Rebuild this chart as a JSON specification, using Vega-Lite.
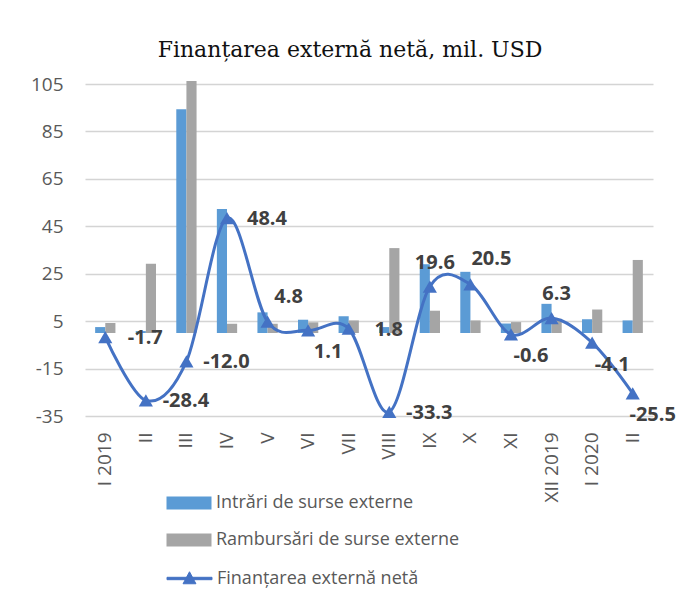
{
  "$schema": "https://vega.github.io/schema/vega-lite/v6.json",
  "autosize": {"type": "none"},
  "width": 568,
  "height": 332,
  "padding": {"left": 85, "top": 84, "right": 25, "bottom": 186},
  "background": "white",
  "title": {
    "text": "Finanțarea externă netă, mil. USD",
    "font": "DejaVu Serif",
    "fontSize": 22,
    "fontWeight": "normal",
    "color": "#111111",
    "anchor": "middle",
    "dx": -19,
    "offset": 13
  },
  "data": {
    "values": [
      {"m": "I 2019", "intrari": 2.5, "ramb": 4.2, "net": -1.7},
      {"m": "II", "intrari": 0.8, "ramb": 29.2, "net": -28.4},
      {"m": "III", "intrari": 94.3, "ramb": 106.3, "net": -12.0},
      {"m": "IV", "intrari": 52.3, "ramb": 3.9, "net": 48.4},
      {"m": "V", "intrari": 8.7, "ramb": 3.9, "net": 4.8},
      {"m": "VI", "intrari": 5.6, "ramb": 4.5, "net": 1.1},
      {"m": "VII", "intrari": 7.1, "ramb": 5.3, "net": 1.8},
      {"m": "VIII", "intrari": 2.5, "ramb": 35.8, "net": -33.3},
      {"m": "IX", "intrari": 29.0, "ramb": 9.4, "net": 19.6},
      {"m": "X", "intrari": 25.8, "ramb": 5.3, "net": 20.5},
      {"m": "XI", "intrari": 4.0, "ramb": 4.6, "net": -0.6},
      {"m": "XII 2019", "intrari": 12.3, "ramb": 6.0, "net": 6.3},
      {"m": "I 2020", "intrari": 5.8, "ramb": 9.9, "net": -4.1},
      {"m": "II 2020", "intrari": 5.3, "ramb": 30.8, "net": -25.5}
    ]
  },
  "encoding": {
    "x": {
      "field": "m",
      "type": "nominal",
      "sort": null,
      "scale": {"paddingInner": 0.5, "paddingOuter": 0.25},
      "axis": {
        "title": null,
        "labelAngle": -90,
        "labelPadding": 16,
        "domain": false,
        "ticks": false,
        "labelExpr": "datum.value == 'II 2020' ? 'II' : datum.value"
      }
    }
  },
  "layer": [
    {
      "transform": [{"fold": ["intrari", "ramb"], "as": ["key", "val"]}],
      "mark": {"type": "bar"},
      "encoding": {
        "xOffset": {"field": "key", "sort": ["intrari", "ramb"], "scale": {"paddingInner": 0, "paddingOuter": 0}},
        "y": {
          "field": "val",
          "type": "quantitative",
          "scale": {"domain": [-35, 105], "nice": false, "zero": false},
          "axis": {
            "title": null,
            "values": [-35, -15, 5, 25, 45, 65, 85, 105],
            "domain": false,
            "ticks": false,
            "grid": true,
            "labelPadding": 22,
            "gridColor": "#D4D4D4",
            "gridWidth": 1.5,
            "zindex": 0
          }
        },
        "color": {
          "field": "key",
          "type": "nominal",
          "scale": {"domain": ["intrari", "ramb"], "range": ["#5B9BD5", "#A5A5A5"]},
          "legend": {
            "orient": "none",
            "legendX": 89,
            "legendY": 404,
            "title": null,
            "direction": "vertical",
            "symbolType": "M-1.5,-0.43H1.5V0.43H-1.5Z",
            "symbolSize": 900,
            "symbolStrokeWidth": 0,
            "labelOffset": 12,
            "rowPadding": 13,
            "labelExpr": "datum.value == 'intrari' ? 'Intrări de surse externe' : 'Rambursări de surse externe'"
          }
        }
      }
    },
    {
      "mark": {"type": "rule", "color": "#D4D4D4", "strokeWidth": 1.5},
      "encoding": {"y": {"datum": 0, "type": "quantitative"}}
    },
    {
      "mark": {
        "type": "line",
        "interpolate": "cardinal",
        "tension": 0,
        "strokeWidth": 3,
        "point": {"shape": "triangle-up", "size": 200, "filled": true, "color": "#4472C4", "opacity": 1}
      },
      "encoding": {
        "y": {"field": "net", "type": "quantitative"},
        "color": {
          "datum": "Finanțarea externă netă",
          "scale": {"range": ["#4472C4"]},
          "legend": {
            "orient": "none",
            "legendX": 89,
            "legendY": 479,
            "title": null,
            "symbolType": "M-1.5,-0.08H1.5V0.08H-1.5Z M0,-0.45L0.43,0.35H-0.43Z",
            "symbolSize": 900,
            "symbolStrokeWidth": 1,
            "labelOffset": 12,
            "encode": {"symbols": {"update": {"fill": {"value": "#4472C4"}, "stroke": {"value": "#4472C4"}}}}
          }
        }
      }
    },
    {
      "transform": [{"filter": {"field": "m", "oneOf": ["I 2019", "II", "III", "IV", "VII", "VIII"]}}],
      "mark": {"type": "text", "dx": 40, "dy": 1, "fontWeight": "bold"},
      "encoding": {"y": {"field": "net", "type": "quantitative"}, "text": {"field": "net", "format": ".1f"}}
    },
    {
      "transform": [{"filter": {"field": "m", "oneOf": ["V", "X"]}}],
      "mark": {"type": "text", "dx": 21, "dy": -25, "fontWeight": "bold"},
      "encoding": {"y": {"field": "net", "type": "quantitative"}, "text": {"field": "net", "format": ".1f"}}
    },
    {
      "transform": [{"filter": {"field": "m", "oneOf": ["IX", "XII 2019"]}}],
      "mark": {"type": "text", "dx": 5, "dy": -24, "fontWeight": "bold"},
      "encoding": {"y": {"field": "net", "type": "quantitative"}, "text": {"field": "net", "format": ".1f"}}
    },
    {
      "transform": [{"filter": {"field": "m", "oneOf": ["VI", "XI", "I 2020", "II 2020"]}}],
      "mark": {"type": "text", "dx": 20, "dy": 22, "fontWeight": "bold"},
      "encoding": {"y": {"field": "net", "type": "quantitative"}, "text": {"field": "net", "format": ".1f"}}
    }
  ],
  "resolve": {"scale": {"color": "independent"}, "legend": {"color": "independent"}},
  "config": {
    "locale": {"number": {"decimal": ".", "thousands": ",", "grouping": [3], "currency": ["$", ""], "minus": "-"}},
    "view": {"stroke": null},
    "font": "Open Sans",
    "axis": {"labelFont": "Open Sans", "labelFontSize": 19, "labelColor": "#595959"},
    "legend": {"labelFont": "Open Sans", "labelFontSize": 18, "labelColor": "#595959", "padding": 0, "labelLimit": 400},
    "text": {"font": "Open Sans", "fontSize": 20, "color": "#404040"}
  }
}
